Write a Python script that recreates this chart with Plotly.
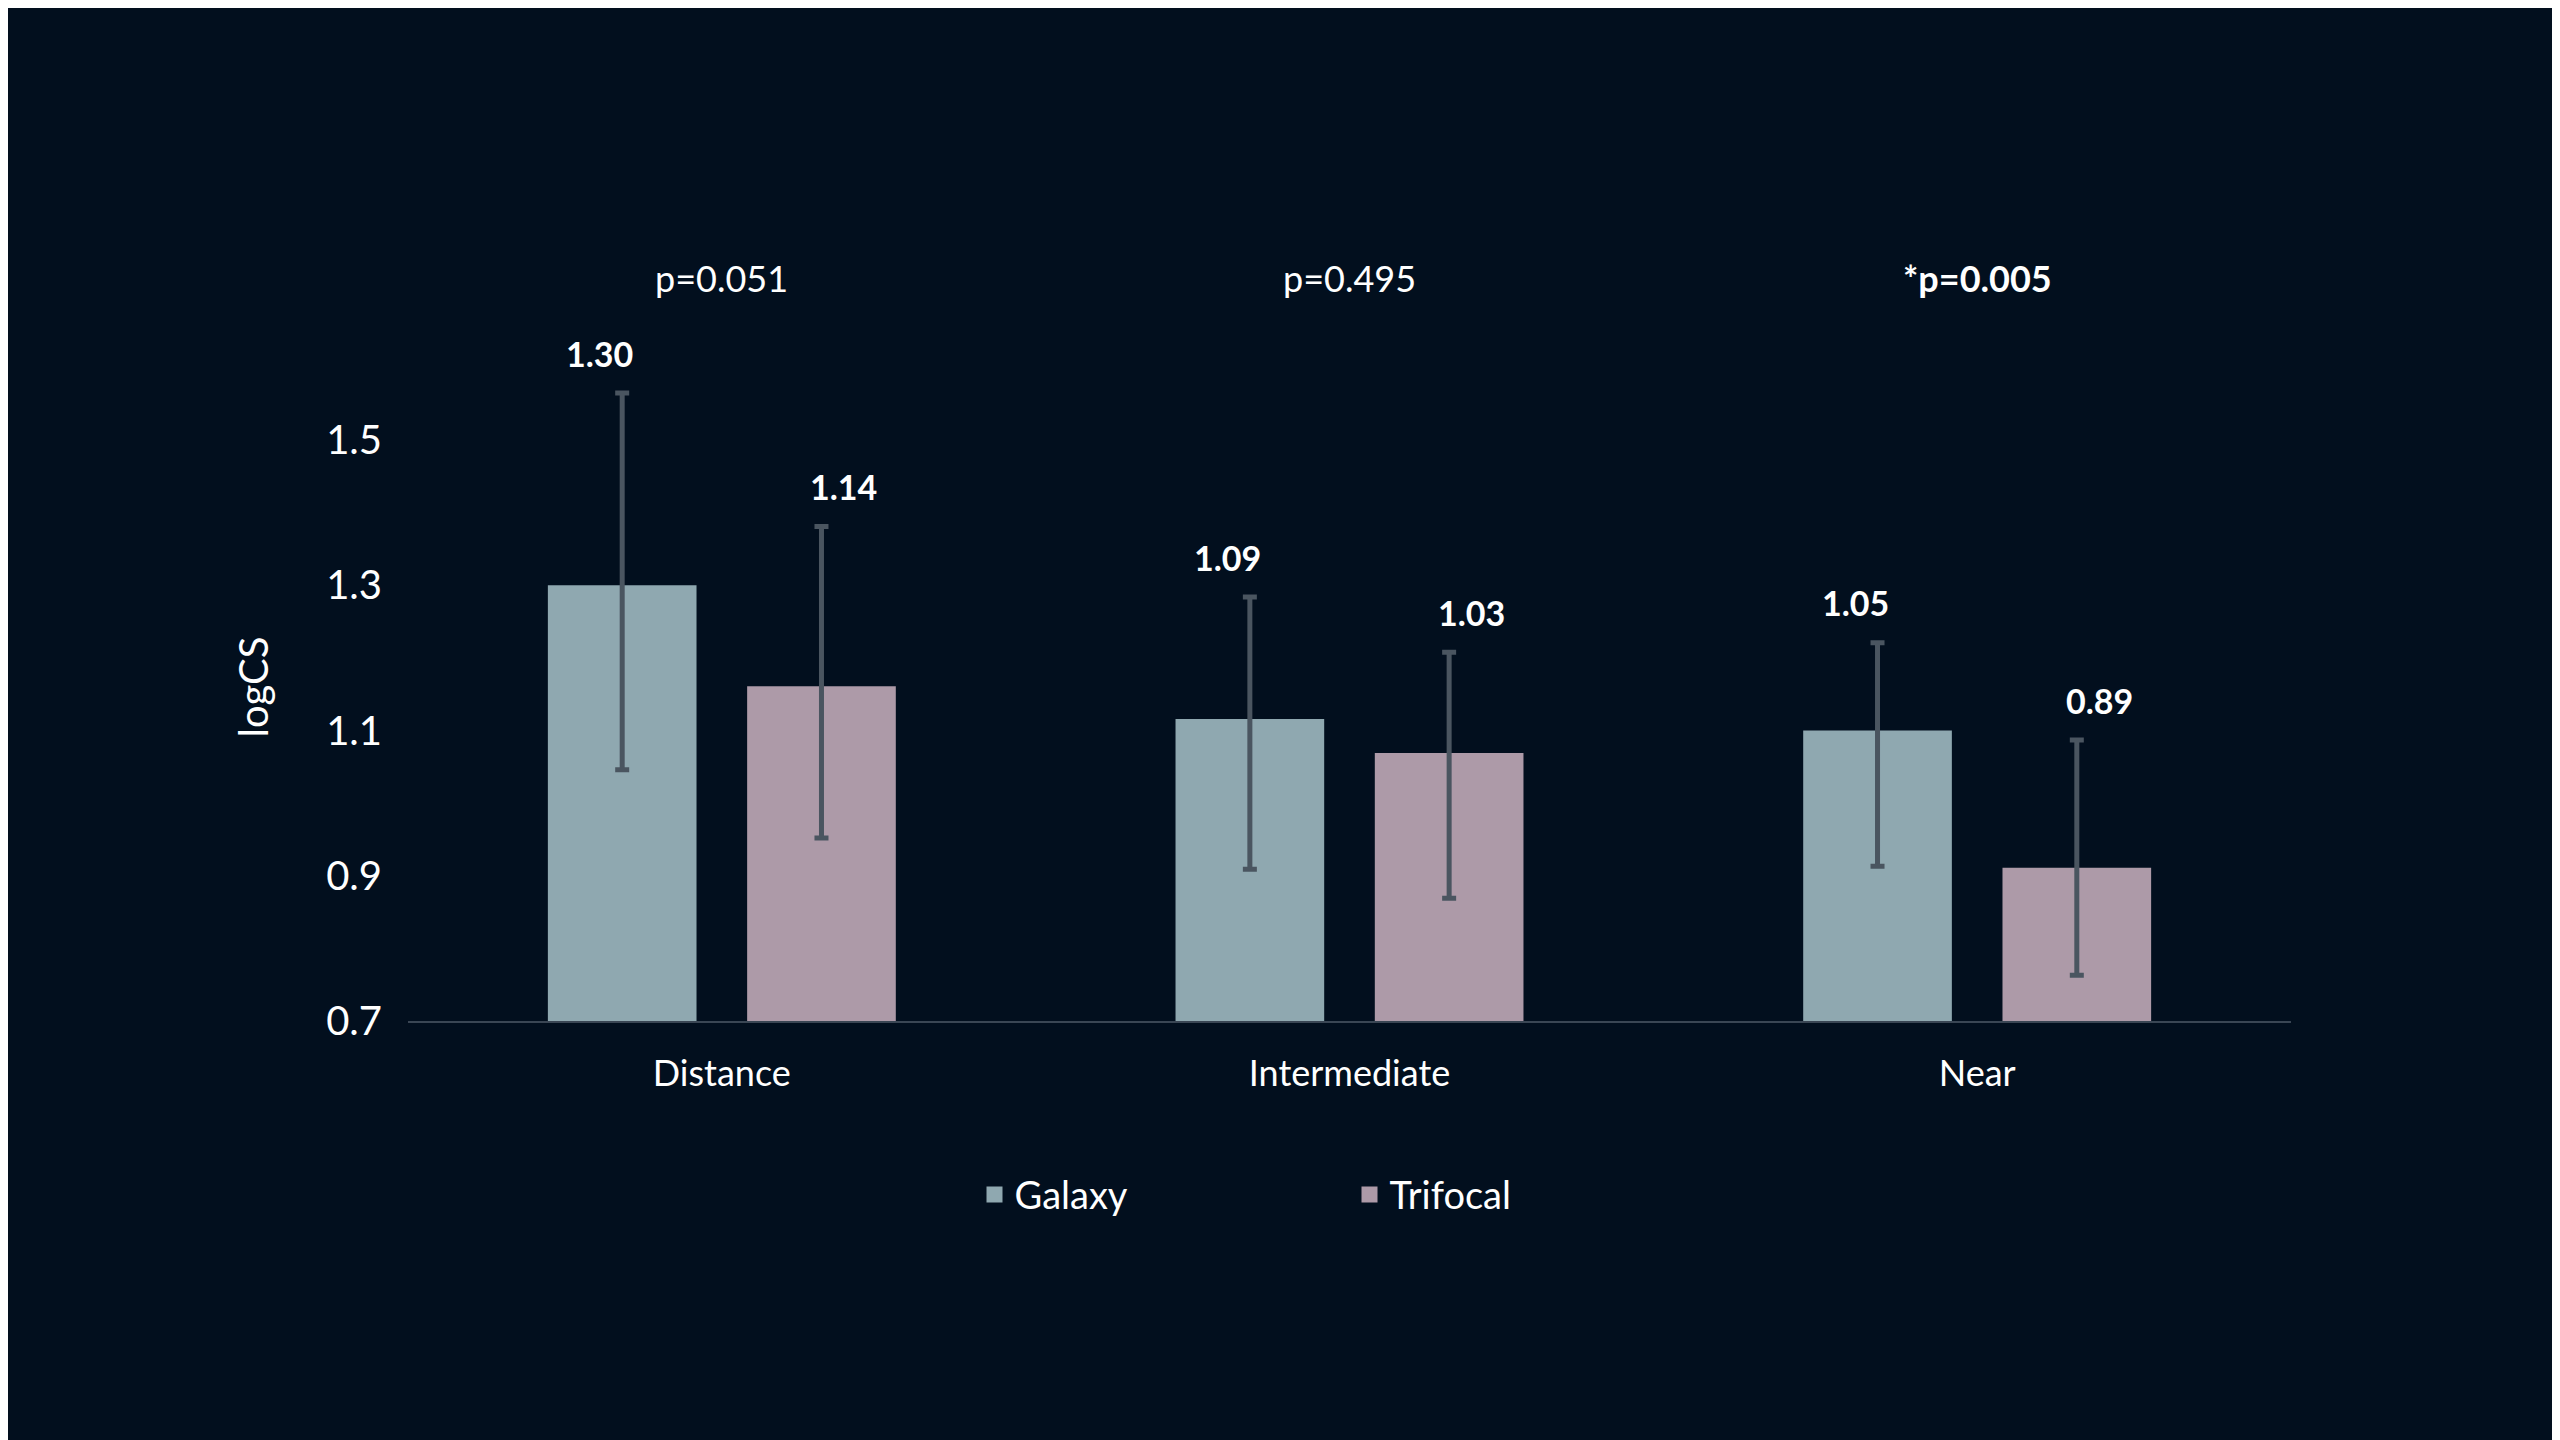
import plotly.graph_objects as go

categories = ["Distance", "Intermediate", "Near"]
galaxy_bar = [1.30, 1.116, 1.10]
galaxy_hi = [1.565, 1.284, 1.221]
galaxy_lo = [1.046, 0.909, 0.913]
galaxy_lbl = ["1.30", "1.09", "1.05"]
trifocal_bar = [1.161, 1.069, 0.911]
trifocal_hi = [1.381, 1.208, 1.087]
trifocal_lo = [0.952, 0.869, 0.763]
trifocal_lbl = ["1.14", "1.03", "0.89"]
p_values = ["p=0.051", "p=0.495", "<b>*p=0.005</b>"]

BG = "#020f1e"
FONT = "Lato"

fig = go.Figure()
for name, bar, hi, lo, col in [
    ("Galaxy", galaxy_bar, galaxy_hi, galaxy_lo, "#8fa8b0"),
    ("Trifocal", trifocal_bar, trifocal_hi, trifocal_lo, "#ad9aa8"),
]:
    fig.add_trace(go.Bar(
        x=categories, y=bar, name=name, marker_color=col, marker_line_width=0,
        showlegend=False,
        error_y=dict(type="data", symmetric=False,
                     array=[h - b for h, b in zip(hi, bar)],
                     arrayminus=[b - l for b, l in zip(bar, lo)],
                     color="#4a5560", thickness=5, width=7),
    ))
# legend entries with big square swatches
for name, col in [("Galaxy", "#8fa8b0"), ("Trifocal", "#ad9aa8")]:
    fig.add_trace(go.Scatter(x=[None], y=[None], mode="markers", name=name,
                             marker=dict(symbol="square", size=38, color=col)))

ann = []
for i, c in enumerate(categories):
    ann.append(dict(x=c, y=1.112, text=p_values[i], showarrow=False, xref="x", yref="paper",
                    yanchor="middle", font=dict(size=36, color="white", family=FONT)))
    for hi, lbl, shift in [(galaxy_hi, galaxy_lbl, -122), (trifocal_hi, trifocal_lbl, 122)]:
        ann.append(dict(x=c, y=hi[i] + 0.055, text="<b>" + lbl[i] + "</b>", showarrow=False,
                        xref="x", yref="y", xshift=shift,
                        font=dict(size=34, color="white", family=FONT)))

fig.update_layout(
    width=2560, height=1440, paper_bgcolor=BG, plot_bgcolor=BG,
    barmode="group", bargap=0.365, bargroupgap=0.254,
    margin=dict(l=400, r=277, t=345, b=427),
    font=dict(family=FONT, color="white", size=36),
    annotations=ann,
    legend=dict(orientation="h", x=0.5, xanchor="center", y=-0.26, yanchor="middle",
                font=dict(size=38, color="white"), traceorder="normal",
                entrywidth=330),
    xaxis=dict(showline=True, linecolor="#3a4654", linewidth=2, ticks="", showgrid=False,
               tickfont=dict(size=36), ticklabelstandoff=20),
    yaxis=dict(range=[0.7, 1.62], tickvals=[0.7, 0.9, 1.1, 1.3, 1.5], tickformat=".1f",
               showgrid=False, zeroline=False, showline=False, ticks="",
               tickfont=dict(size=40), ticklabelstandoff=25,
               title=dict(text="logCS", font=dict(size=40), standoff=45)),
)
fig.write_html("out.html")
